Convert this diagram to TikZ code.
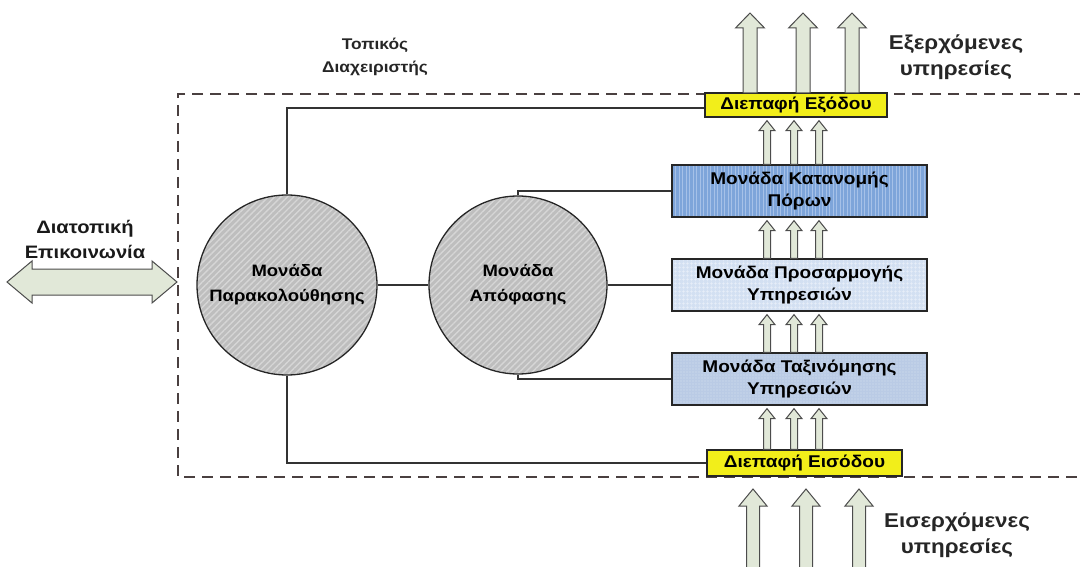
\documentclass[tikz,border=0pt]{standalone}
\usepackage{fontspec}
\setmainfont{Liberation Sans}
\newfontfamily\wfont[FakeStretch=1.12]{Liberation Sans}
\usetikzlibrary{patterns,patterns.meta,calc}
\definecolor{frm}{HTML}{4A4040}
\definecolor{cgray}{HTML}{BEBEBE}
\definecolor{cstripe}{HTML}{D6D6D6}
\definecolor{katfill}{HTML}{7EA5DA}
\definecolor{katstripe}{HTML}{A6C1E8}
\definecolor{profill}{HTML}{D3E0F2}
\definecolor{prostripe}{HTML}{E8EFF9}
\definecolor{taxfill}{HTML}{BACBE5}
\definecolor{taxdot}{HTML}{D6E1F1}
\definecolor{yfill}{HTML}{F2EE1A}
\definecolor{afill}{HTML}{E1E8D8}
\newcommand\blkup[5]{%
  \path #1 coordinate (bA);
  \path #2 coordinate (bB);
  \draw[blk] let \p1=(bA), \p2=(bB) in
    (\x1-#3pt,\y1) -- (\x1-#3pt,\y2-#5pt) -- (\x1-#4pt,\y2-#5pt) -- (\x1,\y2)
    -- (\x1+#4pt,\y2-#5pt) -- (\x1+#3pt,\y2-#5pt) -- (\x1+#3pt,\y1) -- cycle;}
\begin{document}
\begin{tikzpicture}[x=1pt,y=-1pt,
  line/.style={draw=black!80, line width=1.3pt},
  frame/.style={draw=frm, line width=1.8pt, dash pattern=on 11pt off 7pt},
  unit/.style={circle, draw=black!85, line width=1.3pt, minimum size=#1, inner sep=0pt, align=center, text=black,
    font=\wfont\bfseries\fontsize{16.5}{25}\selectfont,
    preaction={fill=cgray},
    preaction={pattern={Lines[angle=45,distance=4.5pt,line width=1.4pt]}, pattern color=cstripe}},
  box/.style={draw=black!85, line width=1.3pt, minimum width=255pt, minimum height=52pt, inner sep=0pt, align=center, text=black,
    font=\wfont\bfseries\fontsize{17}{22}\selectfont},
  ybox/.style={draw=black!85, line width=1.3pt, fill=yfill, inner sep=0pt, text=black, font=\wfont\bfseries\fontsize{17}{20}\selectfont},
  blk/.style={draw=black!70, line width=1pt, fill=afill, line join=miter},
  lbl/.style={align=center, font=\wfont\bfseries\fontsize{20}{26}\selectfont, text=black!85},
]
\useasboundingbox (0,0) rectangle (1080,567);
% frame
\draw[frame] (1085,94) -- (178,94) -- (178,477) -- (1085,477);
% labels
\node[lbl, font=\wfont\bfseries\fontsize{15.5}{23}\selectfont] (tl) at (375,57) {Τοπικός\\Διαχειριστής};
\node[lbl] (exl) at (956,57) {Εξερχόμενες\\υπηρεσίες};
\node[lbl] (eisl) at (957,535) {Εισερχόμενες\\υπηρεσίες};
\node[align=center, font=\wfont\bfseries\fontsize{18}{25}\selectfont, text=black!90] (dial) at (85,239) {Διατοπική\\Επικοινωνία};
% circles
\node[unit=180pt] (mon) at (287,285) {Μονάδα\\Παρακολούθησης};
\node[unit=178pt] (dec) at (518,285) {Μονάδα\\Απόφασης};
% boxes
\node[box, preaction={fill=katfill}, preaction={pattern={Lines[angle=90,distance=3.5pt,line width=1pt]}, pattern color=katstripe}] (kat) at (799.5,191) {Μονάδα Κατανομής\\Πόρων};
\node[box, preaction={fill=profill}, preaction={pattern={Hatch[distance=4pt,line width=0.5pt]}, pattern color=prostripe}] (pro) at (799.5,285) {Μονάδα Προσαρμογής\\Υπηρεσιών};
\node[box, preaction={fill=taxfill}, preaction={pattern={Dots[distance=3pt,radius=0.6pt]}, pattern color=taxdot}] (tax) at (799.5,379) {Μονάδα Ταξινόμησης\\Υπηρεσιών};
\node[ybox, minimum width=182pt, minimum height=24pt] (out) at (796,105) {Διεπαφή Εξόδου};
\node[ybox, minimum width=195pt, minimum height=26pt] (in) at (804.5,463) {Διεπαφή Εισόδου};
% connectors
\draw[line] (mon.north) |- ([yshift=-3pt]out.west);
\draw[line] (mon.south) |- (in.west);
\draw[line] (mon.east) -- (dec.west);
\draw[line] (dec.north) |- (kat.west);
\draw[line] (dec.east) -- (dec.east -| pro.west);
\draw[line] (dec.south) |- (tax.west);
% small arrows
\foreach \d in {-32.5,-5.5,19.5} {
  \blkup{($(kat.north)+(\d,0)$)}{($(kat.north |- out.south)+(\d,3)$)}{3.5}{8}{10}
  \blkup{($(pro.north)+(\d,0)$)}{($(pro.north |- kat.south)+(\d,3)$)}{3.5}{8}{10}
  \blkup{($(tax.north)+(\d,0)$)}{($(tax.north |- pro.south)+(\d,3)$)}{3.5}{8}{10}
  \blkup{($(kat.north |- in.north)+(\d,0)$)}{($(kat.north |- tax.south)+(\d,3)$)}{3.5}{8}{10}
}
% big arrows out
\foreach \x in {750,803,852} {
  \blkup{(\x,93)}{(\x,13)}{7}{14.5}{15}
}
% big arrows in
\foreach \x in {753,806,859} {
  \blkup{(\x,575)}{(\x,489)}{6.5}{14}{17}
}
% double arrow
\coordinate (dl) at (7,282);
\coordinate (dr) at (177,282);
\draw[blk] let \p1=(dl), \p2=(dr) in
  (\x1,\y1) -- (\x1+25pt,\y1+21pt) -- (\x1+25pt,\y1+13pt) -- (\x2-25pt,\y1+13pt) -- (\x2-25pt,\y1+21pt)
  -- (\x2,\y2) -- (\x2-25pt,\y1-21pt) -- (\x2-25pt,\y1-13pt) -- (\x1+25pt,\y1-13pt) -- (\x1+25pt,\y1-21pt) -- cycle;
\end{tikzpicture}
\end{document}
